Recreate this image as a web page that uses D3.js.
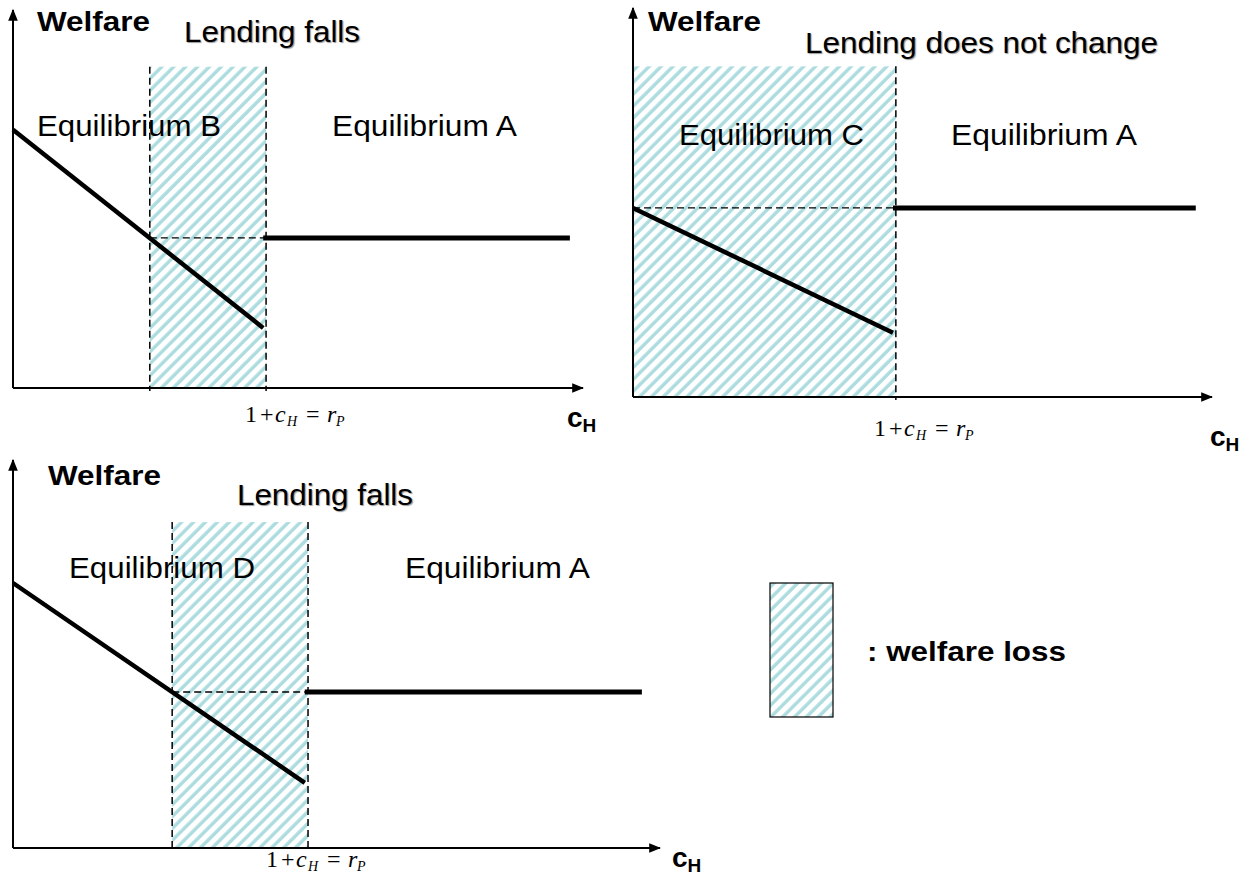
<!DOCTYPE html>
<html>
<head>
<meta charset="utf-8">
<script src="https://cdn.jsdelivr.net/npm/d3@7"></script>
<style>
  body { margin: 0; background: #fff; }
  text { font-family: "Liberation Sans", Arial, sans-serif; }
  .math { font-family: "Liberation Serif", "Times New Roman", serif; }
</style>
</head>
<body>
<div class="canva"></div>
<script>
// values in chart units: c_H on x (0-100), welfare on y (0-100)
const panelTitles = ['Lending falls', 'Lending does not change', 'Lending falls'];
const leftLabels = ['Equilibrium B', 'Equilibrium C', 'Equilibrium D'];
const rightLabel = 'Equilibrium A';
const lossStart = [24.0, 0, 24.6];        // left edge of the shaded loss
const threshold = [44.4, 45.4, 45.6];     // 1 + c_H = r_P
const welfareAtZero = [68.3, 48.6, 68.3]; // left equilibrium welfare at c_H = 0
const welfareAtThreshold = [15.9, 16.5, 16.8];
const welfareA = [39.7, 48.6, 40.2];      // equilibrium A welfare
const lineEnd = [97.7, 97.2, 97.2];
const lossTop = [85, 85, 84];

// where each small chart sits on the page
const frames = [
  { x0: 13, x1: 583, y0: 388, y1: 10,
    welfare: [37, 31], title: [184, 42, 176], left: [37, 136, 184], right: [332, 136, 185],
    mathX: 247, mathY: 422, chX: 567, chY: 427 },
  { x0: 633, x1: 1212, y0: 397, y1: 8,
    welfare: [648, 31], title: [805, 53, 353], left: [679, 145, 185], right: [951, 145, 186],
    mathX: 876, mathY: 436, chX: 1210, chY: 446 },
  { x0: 13, x1: 660, y0: 848, y1: 460,
    welfare: [48, 485], title: [237, 505, 176], left: [69, 578, 186], right: [405, 578, 185],
    mathX: 268, mathY: 867, chX: 672, chY: 867 }
];

// pieces of the "1 + c_H = r_P" label: text, x offset, italic, subscript
const mathParts = [
  ['1', -2, false, false], ['+', 13, false, false], ['c', 28, true, false],
  ['H', 40, true, true], ['=', 59, false, false], ['r', 80, true, false],
  ['P', 89, true, true]
];

const svg = d3.select('.canva').append('svg')
    .attr('width', 1253)
    .attr('height', 876);

const defs = svg.append('defs');

defs.append('marker')
    .attr('id', 'arrow')
    .attr('viewBox', '0 0 10 10')
    .attr('refX', 9).attr('refY', 5)
    .attr('markerWidth', 6).attr('markerHeight', 6)
    .attr('markerUnits', 'strokeWidth')
    .attr('orient', 'auto')
    .append('path')
    .attr('d', 'M0,1 L10,5 L0,9 Z')
    .attr('fill', '#000');

const hatch = defs.append('pattern')
    .attr('id', 'hatch')
    .attr('patternUnits', 'userSpaceOnUse')
    .attr('width', 8.4).attr('height', 8.4)
    .attr('patternTransform', 'rotate(45)');
hatch.append('rect').attr('width', 8.4).attr('height', 8.4).attr('fill', '#fff');
hatch.append('line')
    .attr('x1', 2).attr('y1', 0).attr('x2', 2).attr('y2', 8.4)
    .attr('stroke', '#acdcdf')
    .attr('stroke-width', 3.4);

frames.forEach((f, i) => {
  const x = d3.scaleLinear().domain([0, 100]).range([f.x0, f.x1]);
  const y = d3.scaleLinear().domain([0, 100]).range([f.y0, f.y1]);
  const g = svg.append('g');

  // shaded welfare loss
  g.append('rect')
      .attr('x', x(lossStart[i]))
      .attr('y', y(lossTop[i]))
      .attr('width', x(threshold[i]) - x(lossStart[i]))
      .attr('height', y(0) - y(lossTop[i]))
      .attr('fill', 'url(#hatch)');

  // dashed verticals
  const verts = lossStart[i] > 0 ? [lossStart[i], threshold[i]] : [threshold[i]];
  g.selectAll('.vdash').data(verts).enter().append('line')
      .attr('x1', d => x(d)).attr('x2', d => x(d))
      .attr('y1', y(lossTop[i])).attr('y2', y(0) + 3)
      .attr('stroke', '#000')
      .attr('stroke-width', 1.5)
      .attr('stroke-dasharray', '7,4');

  // dashed horizontal at equilibrium A welfare
  g.append('line')
      .attr('x1', x(lossStart[i])).attr('x2', x(threshold[i]))
      .attr('y1', y(welfareA[i])).attr('y2', y(welfareA[i]))
      .attr('stroke', '#000')
      .attr('stroke-width', 1.3)
      .attr('stroke-dasharray', '7,4');

  // axes
  g.append('line')
      .attr('x1', x(0)).attr('y1', y(0))
      .attr('x2', x(0)).attr('y2', y(100))
      .attr('stroke', '#000').attr('stroke-width', 2)
      .attr('marker-end', 'url(#arrow)');
  g.append('line')
      .attr('x1', x(0)).attr('y1', y(0))
      .attr('x2', x(100)).attr('y2', y(0))
      .attr('stroke', '#000').attr('stroke-width', 2)
      .attr('marker-end', 'url(#arrow)');

  const line = d3.line().x(d => x(d[0])).y(d => y(d[1]));

  // left equilibrium welfare
  g.append('path')
      .datum([[0, welfareAtZero[i]], [threshold[i] - 0.5, welfareAtThreshold[i]]])
      .attr('d', line)
      .attr('fill', 'none')
      .attr('stroke', '#000')
      .attr('stroke-width', 4.5);

  // equilibrium A welfare
  g.append('path')
      .datum([[threshold[i] - 0.5, welfareA[i]], [lineEnd[i], welfareA[i]]])
      .attr('d', line)
      .attr('fill', 'none')
      .attr('stroke', '#000')
      .attr('stroke-width', 5);

  // texts
  g.append('text')
      .attr('x', f.welfare[0]).attr('y', f.welfare[1])
      .attr('font-size', 27).attr('font-weight', 'bold')
      .attr('textLength', 113).attr('lengthAdjust', 'spacingAndGlyphs')
      .text('Welfare');
  g.append('text')
      .attr('x', f.title[0]).attr('y', f.title[1])
      .attr('font-size', 29)
      .attr('textLength', f.title[2]).attr('lengthAdjust', 'spacingAndGlyphs')
      .style('text-shadow', '1px 1px 1px #999')
      .text(panelTitles[i]);
  g.append('text')
      .attr('x', f.left[0]).attr('y', f.left[1])
      .attr('font-size', 29)
      .attr('textLength', f.left[2]).attr('lengthAdjust', 'spacingAndGlyphs')
      .text(leftLabels[i]);
  g.append('text')
      .attr('x', f.right[0]).attr('y', f.right[1])
      .attr('font-size', 29)
      .attr('textLength', f.right[2]).attr('lengthAdjust', 'spacingAndGlyphs')
      .text(rightLabel);

  // 1 + c_H = r_P
  g.selectAll('.math').data(mathParts).enter().append('text')
      .attr('class', 'math')
      .attr('x', d => f.mathX + d[1])
      .attr('y', d => f.mathY + (d[3] ? 4 : 0))
      .attr('font-size', d => d[3] ? 14 : 24)
      .attr('font-style', d => d[2] ? 'italic' : 'normal')
      .text(d => d[0]);

  // c_H axis label
  const c = g.append('text')
      .attr('x', f.chX).attr('y', f.chY)
      .attr('font-size', 28).attr('font-weight', 'bold');
  c.append('tspan').text('c');
  c.append('tspan').attr('font-size', 19).attr('dy', 5).text('H');
});

// legend
svg.append('rect')
    .attr('x', 770).attr('y', 583)
    .attr('width', 63).attr('height', 134)
    .attr('fill', 'url(#hatch)')
    .attr('stroke', '#000')
    .attr('stroke-width', 1.2);
svg.append('text')
    .attr('x', 867).attr('y', 661)
    .attr('font-size', 27).attr('font-weight', 'bold')
    .attr('textLength', 199).attr('lengthAdjust', 'spacingAndGlyphs')
    .text(': welfare loss');
</script>
</body>
</html>
